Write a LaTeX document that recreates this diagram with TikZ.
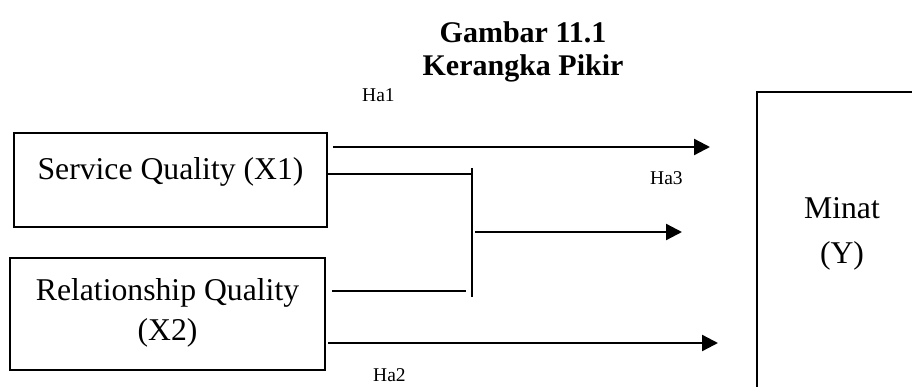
\documentclass[tikz,border=0pt]{standalone}
\usepackage{fontspec}
\setmainfont{Liberation Serif}
\usetikzlibrary{arrows.meta,calc}
\begin{document}
\begin{tikzpicture}[x=1pt,y=-1pt,
 box/.style={draw, line width=2pt, inner sep=0pt, outer sep=0pt, font=\fontsize{31.7}{44}\selectfont},
 thickarr/.style={line width=2.3pt, -{Triangle[length=16pt,width=16pt]}},
 thinline/.style={line width=1.2pt},
 lbl/.style={inner sep=0pt, anchor=base west, font=\fontsize{19.5}{22}\selectfont}]
\useasboundingbox (0,0) rectangle (912,387);
\clip (0,0) rectangle (912,387);
\node[anchor=base, inner sep=0pt, font=\bfseries\fontsize{30}{33}\selectfont] (title) at (523,76)
  {\begin{tabular}[b]{@{}c@{}}Gambar 11.1\\Kerangka Pikir\end{tabular}};
\node[box, minimum width=313pt, minimum height=94pt, text height=20pt, text depth=20pt] (x1) at (170.5,180) {Service Quality (X1)};
\node[box, minimum width=315pt, minimum height=112pt, text height=52pt, text depth=0pt] (x2) at (167.5,314)
  {\fontsize{31.7}{40}\selectfont\begin{tabular}[b]{@{}c@{}}Relationship Quality\\(X2)\end{tabular}};
\node[box, anchor=north west, minimum width=170pt, minimum height=400pt, text height=0pt, text depth=58pt] (y) at (757,92)
  {\begin{tabular}[b]{@{}c@{}}Minat\\(Y)\end{tabular}};
\coordinate (jt) at (472,168);
\coordinate (jb) at (472,297);
\draw[thickarr] ($(x1.north east)+(6,14)$) -- ($(y.north west)+(-47,55)$);
\draw[thinline] ($(x1.east)+(0,-6)$) -- ++(146,0);
\draw[thinline] ($(x2.east)+(7,-23)$) -- ++(134,0);
\draw[thinline] (jt) -- (jb);
\draw[thickarr] ($(jt)+(3,64)$) -- ($(y.north west)+(-75,140)$);
\draw[thickarr] ($(x2.east)+(3,29)$) -- ($(y.north west)+(-39,251)$);
\node[lbl] (ha1) at (362,102) {Ha1};
\node[lbl] (ha3) at (650,185) {Ha3};
\node[lbl] (ha2) at (373,381) {Ha2};
\end{tikzpicture}
\end{document}
